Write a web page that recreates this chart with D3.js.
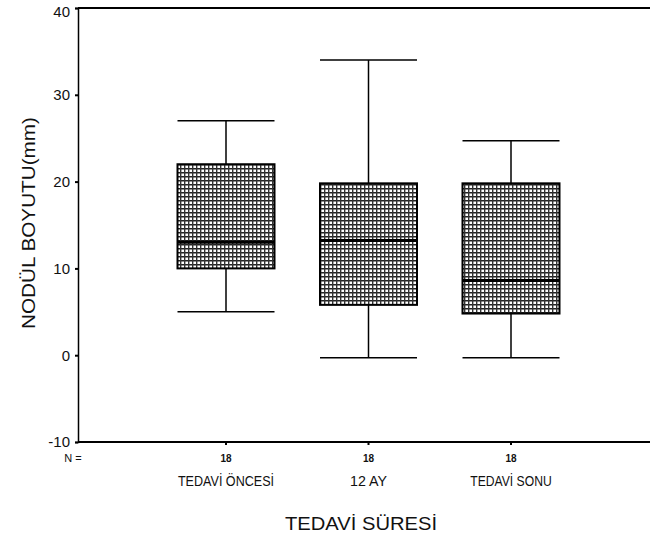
<!DOCTYPE html>
<html><head><meta charset="utf-8">
<script src="https://cdn.jsdelivr.net/npm/d3@7"></script>
<style>body{margin:0;background:#fff}svg{display:block}text{font-family:"Liberation Sans",Arial,sans-serif;fill:#111}</style>
</head><body><div id="chart"></div>
<script>
const categories = ["TEDAVİ ÖNCESİ", "12 AY", "TEDAVİ SONU"];
const nValues = ["18", "18", "18"];
const whiskerLow = [5, -0.3, -0.3];
const q1 = [10, 5.8, 4.8];
const median = [13, 13.2, 8.6];
const q3 = [22, 19.8, 19.8];
const whiskerHigh = [27, 34, 24.7];
const yTicks = [-10, 0, 10, 20, 30, 40];

const W = 650, H = 547;
const svg = d3.select("#chart").append("svg").attr("width", W).attr("height", H);
const defs = svg.append("defs");
const pat = defs.append("pattern").attr("id", "grid").attr("patternUnits", "userSpaceOnUse")
  .attr("width", 4).attr("height", 4);
pat.append("rect").attr("width", 4).attr("height", 4).attr("fill", "#fff");
pat.append("rect").attr("x", 0).attr("y", 0).attr("width", 4).attr("height", 1.5).attr("fill", "#222");
pat.append("rect").attr("x", 0).attr("y", 0).attr("width", 1.4).attr("height", 4).attr("fill", "#333");

const x0 = 78, yTop = 8, yBot = 442;
const y = d3.scaleLinear().domain([-10, 40]).range([yBot, yTop]);
const x = d3.scalePoint().domain(categories).range([226, 511]);
const bw = 97;

// frame
svg.append("line").attr("x1", x0).attr("x2", W).attr("y1", yTop).attr("y2", yTop).attr("stroke", "#000").attr("stroke-width", 2);
svg.append("line").attr("x1", x0).attr("x2", W).attr("y1", yBot).attr("y2", yBot).attr("stroke", "#000").attr("stroke-width", 2);

const yAxis = d3.axisLeft(y).tickValues(yTicks).tickSize(3).tickPadding(5).tickFormat(d => String(d));
const ga = svg.append("g").attr("transform", `translate(${x0},0)`).call(yAxis);
ga.select(".domain").attr("stroke", "#000").attr("stroke-width", 1.5);
ga.selectAll(".tick line").attr("stroke", "#000").attr("stroke-width", 2);
ga.selectAll(".tick text").style("font-size", "15px").attr("fill", "#111");
ga.selectAll(".tick").filter(d => d === 40).select("text").attr("dy", "0.55em");

// boxes
const data = categories.map((c, i) => ({c, lo: whiskerLow[i], q1: q1[i], med: median[i], q3: q3[i], hi: whiskerHigh[i], n: nValues[i]}));
const g = svg.selectAll("g.box").data(data).enter().append("g").attr("class", "box");
g.append("line").attr("x1", d => x(d.c)).attr("x2", d => x(d.c))
  .attr("y1", d => y(d.hi)).attr("y2", d => y(d.q3)).attr("stroke", "#000").attr("stroke-width", 1.5);
g.append("line").attr("x1", d => x(d.c)).attr("x2", d => x(d.c))
  .attr("y1", d => y(d.q1)).attr("y2", d => y(d.lo)).attr("stroke", "#000").attr("stroke-width", 1.5);
g.append("line").attr("x1", d => x(d.c) - bw / 2).attr("x2", d => x(d.c) + bw / 2)
  .attr("y1", d => y(d.hi)).attr("y2", d => y(d.hi)).attr("stroke", "#000").attr("stroke-width", 1.5);
g.append("line").attr("x1", d => x(d.c) - bw / 2).attr("x2", d => x(d.c) + bw / 2)
  .attr("y1", d => y(d.lo)).attr("y2", d => y(d.lo)).attr("stroke", "#000").attr("stroke-width", 1.5);
g.append("rect").attr("x", d => x(d.c) - bw / 2).attr("width", bw)
  .attr("y", d => y(d.q3)).attr("height", d => y(d.q1) - y(d.q3))
  .attr("fill", "url(#grid)").attr("stroke", "#000").attr("stroke-width", 2);
g.append("line").attr("x1", d => x(d.c) - bw / 2).attr("x2", d => x(d.c) + bw / 2)
  .attr("y1", d => y(d.med)).attr("y2", d => y(d.med)).attr("stroke", "#000").attr("stroke-width", 3);
g.append("line").attr("x1", d => x(d.c)).attr("x2", d => x(d.c))
  .attr("y1", yBot).attr("y2", yBot + 3).attr("stroke", "#000").attr("stroke-width", 2);

// N labels
svg.append("text").attr("x", 73).attr("y", 462).attr("text-anchor", "middle").style("font-size", "11px").text("N =");
g.append("text").attr("x", d => x(d.c)).attr("y", 462).attr("text-anchor", "middle").style("font-size", "10px").style("font-weight", "bold").text(d => d.n);
g.append("text").attr("x", d => x(d.c)).attr("y", 486).attr("text-anchor", "middle").style("font-size", "14px")
  .attr("textLength", d => d.c.length * 7.4).attr("lengthAdjust", "spacingAndGlyphs").text(d => d.c);

// titles
svg.append("text").attr("x", 361).attr("y", 530).attr("text-anchor", "middle").style("font-size", "19px")
  .attr("textLength", 152).attr("lengthAdjust", "spacingAndGlyphs").text("TEDAVİ SÜRESİ");
svg.append("text").attr("transform", "translate(35,223) rotate(-90)").attr("text-anchor", "middle").style("font-size", "19px")
  .attr("textLength", 212).attr("lengthAdjust", "spacingAndGlyphs").text("NODÜL BOYUTU(mm)");
</script></body></html>
